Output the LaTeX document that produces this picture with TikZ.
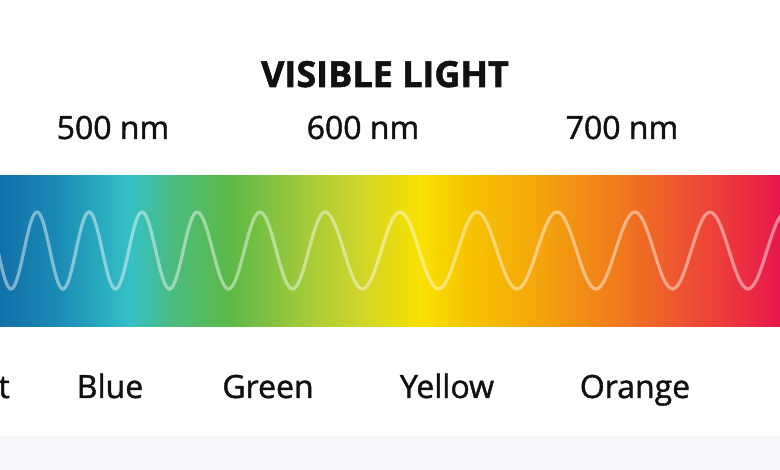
\documentclass[tikz,border=0pt]{standalone}
\usepackage{fontspec}
\setmainfont{Open Sans}
\newfontfamily\lblfont{Open Sans}[FakeBold=1.3]
\newfontfamily\ttlfont{Open Sans}[FakeBold=1.6]
\definecolor{s0}{HTML}{126FA9}
\definecolor{s1}{HTML}{1A8DB6}
\definecolor{s2}{HTML}{35C0C5}
\definecolor{s3}{HTML}{4CBB7A}
\definecolor{s4}{HTML}{5CB947}
\definecolor{s5}{HTML}{9EC93B}
\definecolor{s6}{HTML}{CFD62A}
\definecolor{s7}{HTML}{F8E100}
\definecolor{s8}{HTML}{F6C300}
\definecolor{s9}{HTML}{F4A40C}
\definecolor{s10}{HTML}{F07E1A}
\definecolor{s11}{HTML}{EE5530}
\definecolor{s12}{HTML}{EB3040}
\definecolor{s13}{HTML}{E8174A}
\definecolor{stripcol}{HTML}{F6F7FB}
\definecolor{ink}{HTML}{111111}
\pgfdeclarehorizontalshading{spectrum}{100bp}{color(0bp)=(s0); color(25bp)=(s0); color(28.85bp)=(s1); color(33.33bp)=(s2); color(36.22bp)=(s3); color(39.74bp)=(s4); color(44.23bp)=(s5); color(48.08bp)=(s6); color(51.92bp)=(s7); color(55.13bp)=(s8); color(59.62bp)=(s9); color(64.10bp)=(s10); color(68.59bp)=(s11); color(72.44bp)=(s12); color(75bp)=(s13); color(100bp)=(s13)}
\begin{document}
\begin{tikzpicture}[x=1pt,y=-1pt,
  lbl/.style={font=\lblfont\fontsize{32}{37}\selectfont, inner sep=0pt, anchor=base, text=ink},
  ttl/.style={font=\ttlfont\fontsize{36}{42}\selectfont\bfseries, inner sep=0pt, anchor=base, text=ink},
  wavestyle/.style={draw=white, draw opacity=0.45, line width=3.2pt}]
\useasboundingbox (0,0) rectangle (780,470);
\fill[white] (0,0) rectangle (780,470);
\fill[stripcol] (0,436) rectangle (780,470);
\shade[shading=spectrum] (0,176) rectangle (780,327);
\begin{scope}
\clip (0,176) rectangle (780,327);
\draw[wavestyle] (-15,212) \foreach \a/\b/\c in {-15/11/289, 11/37/212, 37/63/289, 63/89/212, 89/115.5/289, 115.5/142/212, 142/169.5/289, 169.5/197/212, 197/228.5/289, 228.5/260/212, 260/292.5/289, 292.5/325/212, 325/362.5/289, 362.5/400/212, 400/438.5/289, 438.5/477/212, 477/517/289, 517/557/212, 557/596/289, 596/635/212, 635/672.5/289, 672.5/710/212, 710/748/289, 748/786/212, 786/824/289} { .. controls +({0.3634*(\b-\a)},0) and +({-0.3634*(\b-\a)},0) .. (\b,\c) };
\end{scope}
\node[ttl] (title) at (385,87) {VISIBLE LIGHT};
\node[lbl] (n500) at (113,139) {500 nm};
\node[lbl] (n600) at (363,139) {600 nm};
\node[lbl] (n700) at (622,139) {700 nm};
\node[lbl, anchor=base east] (violet) at (10,398) {Violet};
\node[lbl] (blue) at (110,398) {Blue};
\node[lbl] (green) at (268,398) {Green};
\node[lbl] (yellow) at (447,398) {Yellow};
\node[lbl] (orange) at (635,398) {Orange};
\end{tikzpicture}
\end{document}
